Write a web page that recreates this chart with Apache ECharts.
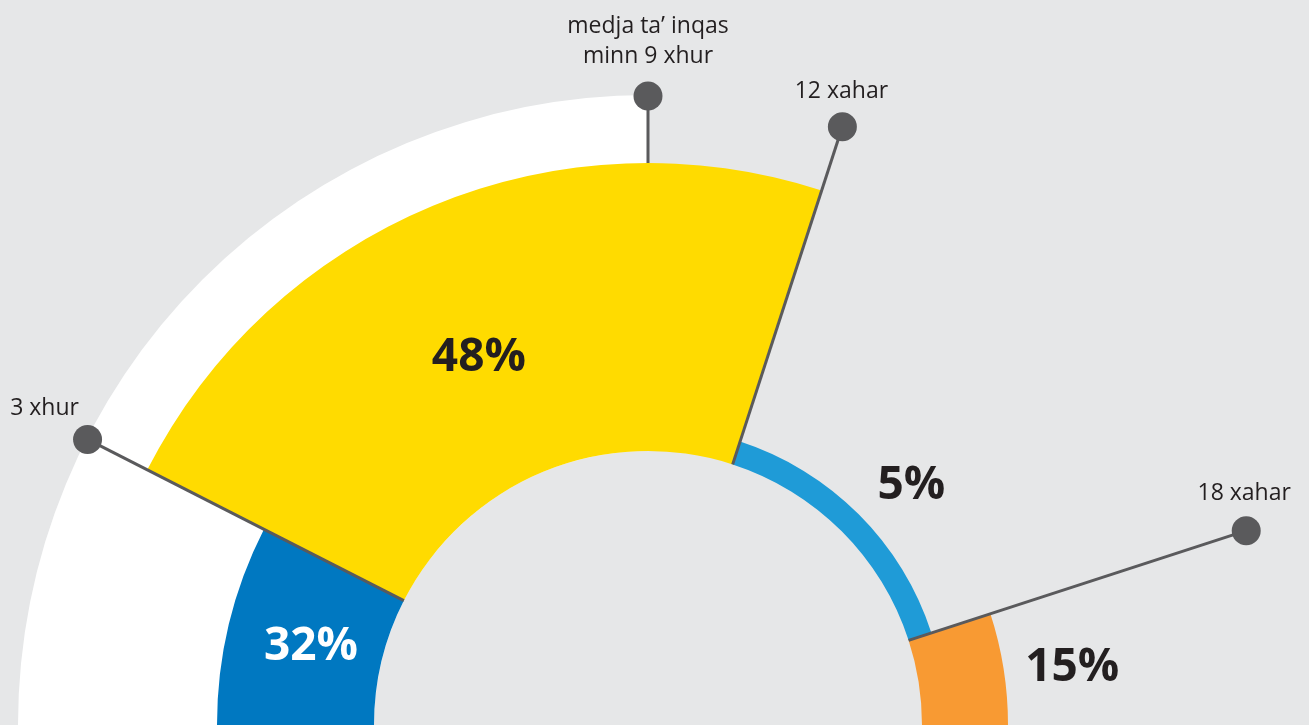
<!DOCTYPE html>
<html>
<head>
<meta charset="utf-8">
<style>
  html, body { margin: 0; padding: 0; background: #e6e7e8; }
  #chart { width: 1309px; height: 725px; }
</style>
<script src="https://cdn.jsdelivr.net/npm/echarts@6/dist/echarts.min.js"></script>
</head>
<body>
<div id="chart"></div>
<script>
// time runs along the half circle: 0 .. 20 months = 180 degrees
const startMonth = [0, 3, 12, 18];
const endMonth   = [3, 12, 18, 20];
const shares     = [32, 48, 5, 15];
const averageBand = [[0, 10]];
const markerMonths = [3, 10, 12, 18];
const markerLabels = ['3 xhur', 'medja ta’ inqas\nminn 9 xhur', '12 xahar', '18 xahar'];

// layout and style (radius in px, the radius axis is 1:1)
const HOLE = 274;
const OUTER = 630;
const DOT_R = 629;
const ringOuter = [431, 562, 298, 360];
const ringColors = ['#0078c1', '#ffdb00', '#1f9bd7', '#f89a33'];
const shareLabelAt = [[1.45, 346], [7.25, 404], [15.3, 356], [19.15, 428]]; // [month, radius]
const shareLabelColors = ['#ffffff', '#231f20', '#231f20', '#231f20'];
const markerOnTop = [true, false, true, true];
const markerLabelOffset = [[-43, -31], [0, -55], [-1, -35], [-2, -37]];
const GREY = '#5a5a5c';

const chart = echarts.init(document.getElementById('chart'));

function angleOf(api, cs, month) {
    const p = api.coord([100, month]);
    let a = Math.atan2(p[1] - cs.cy, p[0] - cs.cx);
    if (a > Math.PI / 2) a -= 2 * Math.PI;
    return a;
}
function radiusOf(api, cs, v) {
    const p = api.coord([v, 0]);
    return Math.hypot(p[0] - cs.cx, p[1] - cs.cy);
}

function markerSeries(onTop, z) {
    const data = [];
    markerMonths.forEach((m, i) => {
        if (markerOnTop[i] === onTop) data.push([m, i]);
    });
    return {
        type: 'custom',
        coordinateSystem: 'polar',
        z: z,
        silent: true,
        data: data,
        renderItem(params, api) {
            const m = api.value(0);
            const i = api.value(1);
            const p0 = api.coord([HOLE, m]);
            const p1 = api.coord([DOT_R, m]);
            const off = markerLabelOffset[i];
            return {
                type: 'group',
                children: [
                    { type: 'line', shape: { x1: p0[0], y1: p0[1], x2: p1[0], y2: p1[1] },
                      style: { stroke: GREY, lineWidth: 3 } },
                    { type: 'circle', shape: { cx: p1[0], cy: p1[1], r: 14.5 },
                      style: { fill: GREY } },
                    { type: 'text', x: p1[0] + off[0], y: p1[1] + off[1],
                      style: { text: markerLabels[i], align: 'center', verticalAlign: 'middle',
                               fill: '#231f20', fontFamily: 'Open Sans', fontSize: 23, lineHeight: 30 } }
                ]
            };
        }
    };
}

chart.setOption({
    animation: false,
    backgroundColor: '#e6e7e8',
    polar: { center: [648, 725], radius: [0, 640] },
    angleAxis: { type: 'value', min: 0, max: 40, startAngle: 180, clockwise: true, show: false },
    radiusAxis: { type: 'value', min: 0, max: 640, show: false },
    series: [
        {
            type: 'custom',
            coordinateSystem: 'polar',
            z: 1,
            silent: true,
            data: averageBand,
            renderItem(params, api) {
                const cs = params.coordSys;
                return {
                    type: 'sector',
                    shape: { cx: cs.cx, cy: cs.cy, r0: radiusOf(api, cs, HOLE), r: radiusOf(api, cs, OUTER),
                             startAngle: angleOf(api, cs, api.value(0)),
                             endAngle: angleOf(api, cs, api.value(1)), clockwise: true },
                    style: { fill: '#ffffff' }
                };
            }
        },
        markerSeries(false, 2),
        {
            type: 'custom',
            coordinateSystem: 'polar',
            z: 3,
            silent: true,
            data: startMonth.map((s, i) => [s, endMonth[i], shares[i]]),
            renderItem(params, api) {
                const cs = params.coordSys;
                const i = params.dataIndex;
                const lp = api.coord([shareLabelAt[i][1], shareLabelAt[i][0]]);
                return {
                    type: 'group',
                    children: [
                        { type: 'sector',
                          shape: { cx: cs.cx, cy: cs.cy, r0: radiusOf(api, cs, HOLE), r: radiusOf(api, cs, ringOuter[i]),
                                   startAngle: angleOf(api, cs, api.value(0)),
                                   endAngle: angleOf(api, cs, api.value(1)), clockwise: true },
                          style: { fill: ringColors[i] } },
                        { type: 'text', x: lp[0], y: lp[1],
                          style: { text: api.value(2) + '%', align: 'center', verticalAlign: 'middle',
                                   fill: shareLabelColors[i], fontFamily: 'Open Sans', fontWeight: 'bold', fontSize: 46 } }
                    ]
                };
            }
        },
        markerSeries(true, 4)
    ]
});

window.addEventListener('resize', () => chart.resize());
</script>
</body>
</html>
